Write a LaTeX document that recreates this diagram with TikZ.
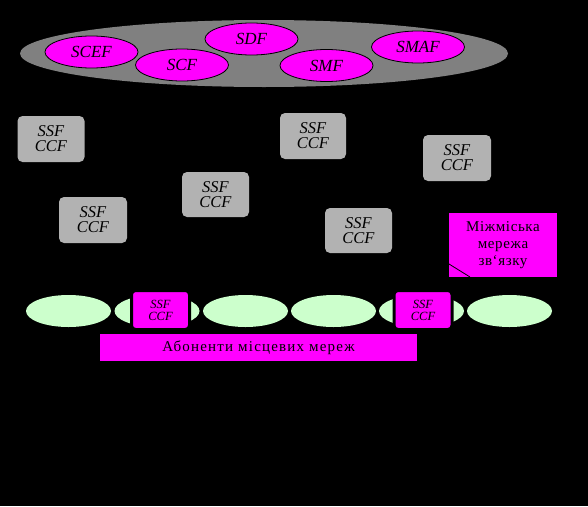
\documentclass[tikz,border=0pt]{standalone}
\usepackage{fontspec}
\setmainfont{Liberation Serif}
\usetikzlibrary{shapes.geometric}
\definecolor{mag}{RGB}{255,0,255}
\definecolor{ellgray}{RGB}{128,128,128}
\definecolor{boxgray}{RGB}{178,178,178}
\definecolor{lgreen}{RGB}{204,255,204}
\begin{document}
\begin{tikzpicture}[x=1pt,y=-1pt,
 fn/.style={ellipse, fill=mag, draw=black, line width=0.8pt, minimum width=93pt, minimum height=32pt, inner sep=0pt, font=\fontsize{17}{17}\selectfont\itshape},
 ssfbox/.style={rounded corners=5pt, fill=boxgray, minimum width=67pt, minimum height=46pt, inner sep=0pt, align=center, font=\fontsize{16.5}{15}\selectfont\itshape},
 loc/.style={ellipse, fill=lgreen, minimum width=85pt, minimum height=32pt, inner sep=0pt},
 ssfsmall/.style={rounded corners=4pt, fill=mag, draw=black, line width=3pt, minimum width=58pt, minimum height=39pt, inner sep=0pt, align=center, font=\fontsize{12.5}{12}\selectfont\itshape},
 bar/.style={fill=mag, inner sep=0pt},
]
\fill[black] (0,0) rectangle (588,506);
\useasboundingbox (0,0) rectangle (588,506);
% core network
\node[ellipse, fill=ellgray, minimum width=488pt, minimum height=67pt, inner sep=0pt] (core) at (264,53.5) {};
\node[fn] (scef) at (91.5,52) {SCEF};
\node[fn] (scf) at (182,65) {SCF};
\node[fn] (sdf) at (251.5,39) {SDF};
\node[fn] (smf) at (326.5,65.5) {SMF};
\node[fn] (smaf) at (418,47) {SMAF};
% switching nodes
\node[ssfbox] (s1) at (51,139) {SSF\\CCF};
\node[ssfbox, minimum width=68pt] (s2) at (93,220) {SSF\\CCF};
\node[ssfbox, minimum height=45pt] (s3) at (215.5,194.5) {SSF\\CCF};
\node[ssfbox, minimum width=66pt] (s4) at (313,136) {SSF\\CCF};
\node[ssfbox, minimum width=68pt] (s5) at (457,158) {SSF\\CCF};
\node[ssfbox, minimum height=45pt] (s6) at (358.5,230.5) {SSF\\CCF};
% long-distance network
\node[bar, minimum width=108pt, minimum height=64pt, align=center, font=\fontsize{15}{17}\selectfont\addfontfeatures{LetterSpace=4}] (mm) at (503,245) {Міжміська\\мережа\\зв`язку};
\coordinate (l1) at (449,264);
\coordinate (l2) at (470,277);
\draw[black, line width=0.8pt] (l1) -- (l2);
% local networks
\node[loc] (e1) at (68.5,311) {};
\node[loc] (e2) at (157,311) {};
\node[loc] (e3) at (245.5,311) {};
\node[loc] (e4) at (333.5,311) {};
\node[loc] (e5) at (421.5,311) {};
\node[loc] (e6) at (509.5,311) {};
\node[ssfsmall] (a1) at (160.5,310) {SSF\\CCF};
\node[ssfsmall] (a2) at (423,310) {SSF\\CCF};
\node[bar, minimum width=317pt, minimum height=27pt, font=\fontsize{15}{15}\selectfont\addfontfeatures{LetterSpace=8}] (subs) at (258.5,347.5) {Абоненти місцевих мереж};
\end{tikzpicture}
\end{document}
